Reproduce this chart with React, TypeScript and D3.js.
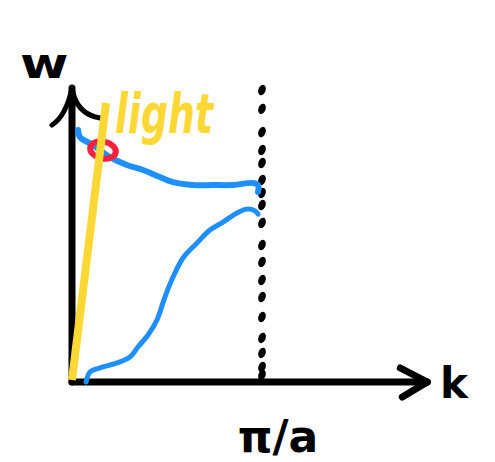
import React, {JSX} from "react";
import * as d3 from "d3";

// wavenumber k in units of pi/a, frequency w in arbitrary units (axis top = 1)
const upperBranch: [number, number][] = [
    [0.032, 0.857], [0.042, 0.833], [0.111, 0.806], [0.2, 0.765], [0.289, 0.738],
    [0.374, 0.721], [0.463, 0.697], [0.532, 0.68], [0.637, 0.67], [0.742, 0.67],
    [0.847, 0.67], [0.953, 0.677], [0.979, 0.67], [0.979, 0.646],
];
const lowerBranch: [number, number][] = [
    [0.074, 0.0], [0.095, 0.034], [0.147, 0.048], [0.237, 0.065], [0.305, 0.085],
    [0.347, 0.119], [0.4, 0.16], [0.447, 0.211], [0.489, 0.289], [0.532, 0.357],
    [0.584, 0.422], [0.658, 0.473], [0.726, 0.517], [0.795, 0.544], [0.868, 0.575],
    [0.921, 0.588], [0.963, 0.582], [0.979, 0.571],
];
const lightLine: [number, number][] = [[0, 0.007], [0.179, 0.949]];
const zoneDots = [0.993, 0.929, 0.85, 0.789, 0.745, 0.687, 0.643, 0.602, 0.541, 0.466,
    0.408, 0.347, 0.289, 0.221, 0.15, 0.099, 0.051, 0.024];
const crossing: [number, number] = [0.163, 0.789];
const xMax = 1.87;
const zoneEdge = 1;
const xLabel = "k";
const yLabel = "w";
const edgeLabel = "π/a";
const lightLabel = "light";

export default function App(): JSX.Element {
    const width = 495
    const height = 462
    const x = d3.scaleLinear([0, 1], [72, 262]);
    const y = d3.scaleLinear([0, 1], [382, 88]);
    const curve = d3.line<[number, number]>(d => x(d[0]), d => y(d[1])).curve(d3.curveCatmullRom);
    const ax = x(0), ay = y(0), xEnd = x(xMax), yTop = y(1.0);
    const font = "'DejaVu Sans', sans-serif";

    return (
        <div style={{position: "absolute", left: 0, top: 0}}>
            <svg width={width} height={height} style={{display: "block", background: "white"}}>
                {/* brillouin zone edge */}
                <g fill="black">
                    {zoneDots.map((d, i) => (
                        <ellipse key={i} cx={x(zoneEdge)} cy={y(d)} rx={3.6} ry={5.4}
                                 transform={`rotate(20 ${x(zoneEdge)} ${y(d)})`}/>
                    ))}
                </g>
                {/* axes */}
                <g stroke="black" strokeWidth={7} fill="none" strokeLinecap="round" strokeLinejoin="round">
                    <line x1={ax} y1={ay} x2={xEnd} y2={ay}/>
                    <path d={`M${xEnd - 27},${ay - 14} L${xEnd},${ay} L${xEnd - 25},${ay + 15}`}/>
                    <line x1={ax} y1={ay} x2={ax} y2={yTop}/>
                    <path d={`M${ax - 20},${yTop + 37} Q${ax - 6},${yTop + 28} ${ax},${yTop} Q${ax + 4},${yTop + 26} ${ax + 28},${yTop + 30}`}
                          strokeWidth={5}/>
                </g>
                {/* branches */}
                <path d={curve(upperBranch) as string} fill="none" stroke="#1e8fff" strokeWidth={6} strokeLinecap="round"/>
                <path d={curve(lowerBranch) as string} fill="none" stroke="#1e8fff" strokeWidth={5} strokeLinecap="round"/>
                <ellipse cx={x(crossing[0])} cy={y(crossing[1])} rx={13} ry={8.5} fill="none" stroke="#f4213f" strokeWidth={6}
                         transform={`rotate(12 ${x(crossing[0])} ${y(crossing[1])})`}/>
                <path d={d3.line()(lightLine.map(d => [x(d[0]), y(d[1])])) as string} stroke="#fdd835" strokeWidth={8} fill="none"/>
                {/* labels */}
                <text x={0} y={0} fill="#fdd835" fontFamily={font} fontWeight="bold" fontStyle="italic" fontSize={40}
                      textLength={98} lengthAdjust="spacingAndGlyphs" transform="translate(115,133) scale(1,1.4)">{lightLabel}</text>
                <text x={0} y={0} fontFamily={font} fontWeight="bold" fontSize={42}
                      transform="translate(20,78) scale(1.25,1)">{yLabel}</text>
                <text x={440} y={398} fontFamily={font} fontWeight="bold" fontSize={42}>{xLabel}</text>
                <text x={278} y={452} textAnchor="middle" fontFamily={font} fontWeight="bold" fontSize={44}>{edgeLabel}</text>
            </svg>
        </div>
    )
}
